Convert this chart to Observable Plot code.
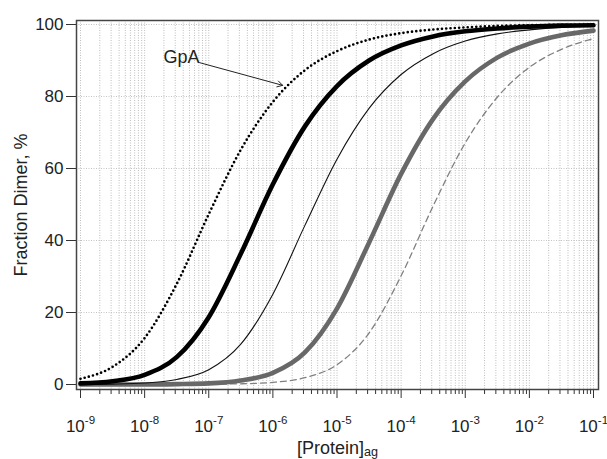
<!DOCTYPE html>
<html><head><meta charset="utf-8">
<script src="https://cdn.jsdelivr.net/npm/d3@7"></script>
<script src="https://cdn.jsdelivr.net/npm/@observablehq/plot@0.6"></script>
<style>
html,body{margin:0;padding:0;background:#fff;}
#chart{width:607px;height:459px;}
</style></head><body><div id="chart"></div>
<script>
// Protein concentration sample points (half-decade steps)
const concentration = [1e-9, 3.16e-9, 1e-8, 3.16e-8, 1e-7, 3.16e-7, 1e-6, 3.16e-6, 1e-5, 3.16e-5, 1e-4, 3.16e-4, 1e-3, 3.16e-3, 1e-2, 3.16e-2, 1e-1];
// Fraction dimer (%)
const gpaDotted   = [1.6, 4.9, 12.9, 27.9, 47.3, 65.2, 78.5, 87.3, 92.6, 95.8, 97.6, 98.6, 99.2, 99.6, 99.8, 99.9, 99.9];
const thickBlack  = [0.3, 0.9, 2.7, 7.6, 18.7, 36.3, 55.6, 71.7, 82.9, 90.0, 94.2, 96.7, 98.1, 98.9, 99.4, 99.7, 99.8];
const thinBlack   = [0.0, 0.1, 0.4, 1.4, 4.1, 11.2, 25.1, 44.2, 62.6, 76.7, 86.1, 91.9, 95.4, 97.4, 98.5, 99.2, 99.5];
const thickGray   = [0.0, 0.0, 0.0, 0.1, 0.3, 1.1, 3.2, 8.9, 21.1, 39.4, 58.5, 73.8, 84.2, 90.8, 94.7, 97.0, 98.3];
const dashedGray  = [0.0, 0.0, 0.0, 0.0, 0.1, 0.2, 0.6, 1.9, 5.5, 14.3, 30.2, 49.6, 67.1, 79.8, 88.1, 93.1, 96.1];

const majorTicks = [1e-9, 1e-8, 1e-7, 1e-6, 1e-5, 1e-4, 1e-3, 1e-2, 1e-1];
const minorMultipliers = [2, 3, 4, 5, 6, 7, 8, 9];
const yTicks = [0, 20, 40, 60, 80, 100];
const xLabel = "[Protein]";
const xLabelSub = "ag";
const yLabel = "Fraction Dimer, %";
const annotationLabel = [{label: "GpA", c: 3.77e-8, v: 90.8}];
const annotationArrow = [{c1: 7.2e-8, v1: 89.4, c2: 1.42e-6, v2: 83.1}];

const minorTicks = majorTicks.slice(0, -1).flatMap(d => minorMultipliers.map(m => m * d));
const allTicks = majorTicks.concat(minorTicks);
const rows = vals => concentration.map((c, i) => ({c, v: vals[i]}));

const lineOpts = {x: "c", y: "v", curve: "monotone-x"};

const plot = Plot.plot({
  width: 607, height: 459,
  marginLeft: 76, marginRight: 9, marginTop: 20, marginBottom: 70,
  insetLeft: 4, insetRight: 5, insetTop: 4, insetBottom: 5,
  style: {fontFamily: "'Liberation Sans', Arial, Helvetica, sans-serif", fontSize: "17px", background: "#fff", color: "#222"},
  x: {type: "log", domain: [1e-9, 1e-1]},
  y: {domain: [0, 100]},
  marks: [
    Plot.gridX(allTicks, {stroke: "#bdbdbd", strokeOpacity: 1, strokeDasharray: "1,1.5"}),
    Plot.gridY(yTicks.slice(1), {stroke: "#c4c4c4", strokeOpacity: 1, strokeDasharray: "1,1.5"}),
    Plot.axisX(minorTicks, {tickSize: 5, tickFormat: () => "", label: null, stroke: "#333"}),
    Plot.axisX(majorTicks, {tickSize: 9, tickPadding: 21, stroke: "#333", fontSize: 17,
      tickFormat: d => "10^" + Math.round(Math.log10(d)),
      label: xLabel + xLabelSub, labelArrow: "none", labelAnchor: "center", labelOffset: 64}),
    Plot.axisY(yTicks, {tickSize: 10, tickPadding: 3, stroke: "#333", fontSize: 17,
      label: yLabel, labelArrow: "none", labelAnchor: "center", labelOffset: 62}),
    Plot.line(rows(dashedGray), {...lineOpts, stroke: "#808080", strokeWidth: 1.3, strokeDasharray: "6,4"}),
    Plot.line(rows(thickGray), {...lineOpts, stroke: "#686868", strokeWidth: 4.6}),
    Plot.line(rows(thinBlack), {...lineOpts, stroke: "#111", strokeWidth: 1.1}),
    Plot.line(rows(thickBlack), {...lineOpts, stroke: "#000", strokeWidth: 4.6}),
    Plot.line(rows(gpaDotted), {...lineOpts, stroke: "#000", strokeWidth: 2.7, strokeDasharray: "0,4.3", strokeLinecap: "round"}),
    Plot.frame({stroke: "#444", strokeWidth: 1.5}),
    Plot.arrow(annotationArrow, {x1: "c1", y1: "v1", x2: "c2", y2: "v2", stroke: "#222", strokeWidth: 1, headLength: 9}),
    Plot.text(annotationLabel, {x: "c", y: "v", text: "label", fontSize: 18, fill: "#222", textAnchor: "middle", lineAnchor: "middle"})
  ]
});

document.getElementById("chart").appendChild(plot);

const svg = d3.select(plot);
// superscript exponents on x tick labels
svg.selectAll('g[aria-label="x-axis tick label"] text').each(function() {
  const t = this.textContent;
  if (!t.includes("^")) return;
  const [base, exp] = t.split("^");
  const el = d3.select(this);
  el.text(null);
  el.append("tspan").text(base);
  el.append("tspan").attr("dy", "-0.62em").attr("font-size", "0.68em").text(exp);
});
// subscript on x-axis label
svg.selectAll('g[aria-label="x-axis label"] text').each(function() {
  const el = d3.select(this);
  el.text(null).attr("font-size", 18);
  el.append("tspan").text(xLabel);
  el.append("tspan").attr("dy", "0.22em").attr("font-size", "0.7em").text(xLabelSub);
});
svg.selectAll('g[aria-label="y-axis label"] text').text(yLabel).attr("font-size", 18);
</script>
</body></html>
